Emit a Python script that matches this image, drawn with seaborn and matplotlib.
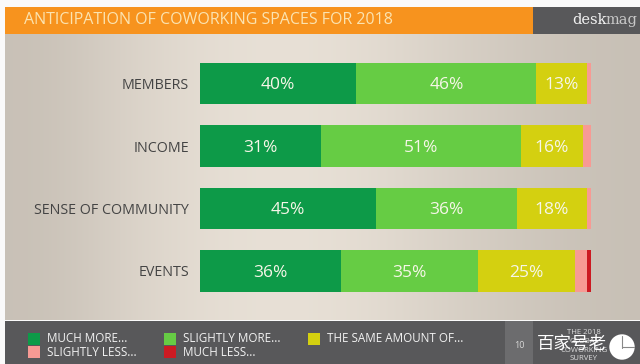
import numpy as np
import pandas as pd
import seaborn as sns
import matplotlib
matplotlib.use('Agg')
import matplotlib.pyplot as plt
from matplotlib.patches import Rectangle, Circle

# data
categorias = ['MEMBERS', 'INCOME', 'SENSE OF COMMUNITY', 'EVENTS']
much_more = [40, 31, 45, 36]
slightly_more = [46, 51, 36, 35]
same_amount = [13, 16, 18, 25]
slightly_less = [1, 2, 1, 3]
much_less = [0, 0, 0, 1]

series = ['MUCH MORE...', 'SLIGHTLY MORE...', 'THE SAME AMOUNT OF...', 'SLIGHTLY LESS...', 'MUCH LESS...']
cores = ['#0d9a48', '#66cc44', '#d4d010', '#f79a94', '#cc1a22']
titulo = 'ANTICIPATION OF COWORKING SPACES FOR 2018'

sns.set_theme(style='white')
plt.rcParams['font.family'] = ['Open Sans', 'Noto Sans CJK SC', 'DejaVu Sans']

W, H = 640, 364
fig = plt.figure(figsize=(W / 100, H / 100), dpi=100, facecolor='#fafafa')

# fundo em coordenadas de pixel
bg = fig.add_axes([0, 0, 1, 1])
grad = np.array([[0.1, 0.55, 0.85, 0.95, 0.85, 0.55, 0.3, 0.1]])
c1 = np.array([0.77, 0.74, 0.70])
c2 = np.array([0.92, 0.89, 0.85])
img = c1[None, None, :] * (1 - grad[..., None]) + c2[None, None, :] * grad[..., None]
bg.imshow(img, extent=[5, W, 320, 33], aspect='auto', interpolation='bicubic', zorder=0)
bg.set_xlim(0, W)
bg.set_ylim(H, 0)
bg.axis('off')
bg.add_patch(Rectangle((5, 7), 528, 27, color='#f7931e', lw=0, zorder=1))
bg.add_patch(Rectangle((533, 7), 107, 27, color='#58585a', lw=0, zorder=1))
bg.add_patch(Rectangle((5, 321), 635, 43, color='#58585a', lw=0, zorder=1))
bg.add_patch(Rectangle((505, 321), 28, 43, color='#6c6c6e', lw=0, zorder=2))

bg.text(24, 20.5, titulo, color='#fbe3b0', fontsize=11.5, va='center', zorder=3)
bg.text(572, 20, 'desk', color='#f2f2f2', fontsize=10.5, family='DejaVu Serif', va='center', zorder=3)
bg.text(606, 20, 'mag', color='#c8c8c8', fontsize=10.5, family='DejaVu Serif', va='center', zorder=3)

# legenda
leg_pos = [(28, 339), (164, 339), (308, 339), (28, 352), (164, 352)]
txt_x = [47, 183, 327, 47, 183]
for i in range(5):
    x, y = leg_pos[i]
    bg.add_patch(Rectangle((x, y - 6), 12, 12, color=cores[i], lw=0, zorder=3))
    bg.text(txt_x[i], y, series[i], color='#f2f2f2', fontsize=8.4, va='center', zorder=3)

bg.text(519, 346, '10', color='#d8d8d8', fontsize=6.5, ha='center', va='center', zorder=3)
for yy, s in zip([333, 341.5, 350, 358.5], ['THE 2018', 'GLOBAL', 'COWORKING', 'SURVEY']):
    bg.text(584, yy, s, color='#dddddd', fontsize=5.6, ha='center', va='center', zorder=3)
bg.text(537, 345, '百家号老', color='white', fontsize=12.6, va='center', zorder=4)
bg.add_patch(Circle((622, 347), 12.7, color='white', lw=0, zorder=4))
bg.plot([622, 622], [336, 348], color='#888888', lw=0.8, zorder=5)
bg.plot([622, 634], [347, 347], color='#888888', lw=0.8, zorder=5)

# barras empilhadas
topo, base = 52.25, 302.25
ax = fig.add_axes([200 / W, 1 - base / H, 391 / W, (base - topo) / H])
ax.patch.set_alpha(0)
df = pd.DataFrame({'cat': categorias, 'a': much_more, 'b': slightly_more, 'c': same_amount,
                   'd': slightly_less, 'e': much_less})
colunas = ['a', 'b', 'c', 'd', 'e']
esquerda = np.zeros(len(df))
for col, cor in zip(colunas, cores):
    sns.barplot(data=df, y='cat', x=col, color=cor, left=esquerda, width=0.665, saturation=1,
                order=categorias, ax=ax, linewidth=0, zorder=2)
    if col in ['a', 'b', 'c']:
        for i, v in enumerate(df[col]):
            ax.text(esquerda[i] + v / 2, i + 0.025, f'{v}%', color='#f6f6e8', fontsize=12.5,
                    ha='center', va='center', zorder=3)
    esquerda = esquerda + df[col].values

ax.set_xlim(0, 100)
ax.set_ylim(3.5, -0.5)
ax.set_xlabel('')
ax.set_ylabel('')
ax.set_xticks([])
ax.tick_params(axis='y', length=0, pad=8, labelsize=10.3, labelcolor='#444444')
sns.despine(ax=ax, left=True, bottom=True)

fig.savefig('out.png', dpi=100, facecolor=fig.get_facecolor())
